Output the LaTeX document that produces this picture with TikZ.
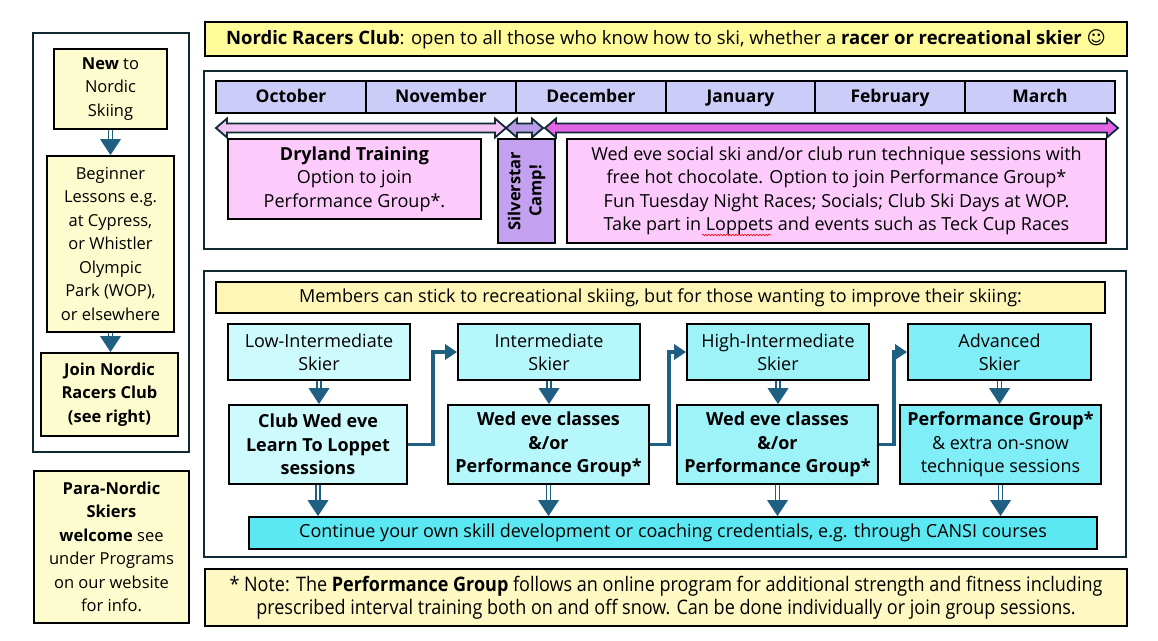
\documentclass[tikz,border=0pt]{standalone}
\usepackage{fontspec}
\setmainfont{Open Sans}
\newfontfamily\narrowfont[FakeStretch=0.9]{Open Sans}
\newfontfamily\symfont{DejaVu Sans}
\usetikzlibrary{arrows.meta,calc,decorations.pathmorphing}
\definecolor{frame}{HTML}{0F2A33}
\definecolor{hdr}{HTML}{FFFB98}
\definecolor{pale}{HTML}{FDFCCF}
\definecolor{memb}{HTML}{FDF6B6}
\definecolor{notec}{HTML}{FEF9C2}
\definecolor{month}{HTML}{CCCCF8}
\definecolor{pinkbox}{HTML}{FCCBFC}
\definecolor{silv}{HTML}{C4A0F0}
\definecolor{arrA}{HTML}{F4C4F4}
\definecolor{arrB}{HTML}{B89CE8}
\definecolor{arrC}{HTML}{E464E6}
\definecolor{cyA}{HTML}{CDFBFD}
\definecolor{cyB}{HTML}{B6F7FB}
\definecolor{cyC}{HTML}{9EF3F8}
\definecolor{cyD}{HTML}{80EEF6}
\definecolor{cyE}{HTML}{5CE8F2}
\definecolor{conn}{HTML}{1F5F82}
\newcommand\bx[7]{\node[#6, minimum width={(#4-#2)*1pt}, minimum height={(#5-#3)*1pt}] (#1) at ({(#2+#4)/2},{(#3+#5)/2}) {#7};}
\newcommand\dnarr[2]{\draw[dshaft] (#1) -- ($(#2)+(0,-16)$); \fill[conn] ($(#2)+(-10.5,-16)$) -- ($(#2)+(10.5,-16)$) -- (#2) -- cycle;}
\newcommand\fatarr[5]{\draw[line width=1.8pt, draw=frame, fill=#5, line join=miter]
  (#1,#3) -- ({#1+11},{#3-9.5}) -- ({#1+11},{#3-4.5}) -- ({#2-11},{#3-4.5}) -- ({#2-11},{#3-9.5}) -- (#2,#3)
  -- ({#2-11},{#3+9.5}) -- ({#2-11},{#3+4.5}) -- ({#1+11},{#3+4.5}) -- ({#1+11},{#3+9.5}) -- cycle;}
\begin{document}
\begin{tikzpicture}[x=1pt,y=-1pt,
  boxst/.style={draw=black, line width=1.8pt, inner sep=0pt, align=center, font=\fontsize{18}{23.5}\selectfont},
  leftst/.style={boxst, fill=pale, font=\fontsize{16.5}{23.5}\selectfont},
  framest/.style={draw=frame, line width=2.8pt, fill=white},
  monthst/.style={boxst, fill=month, line width=1.5pt, text height=12pt, text depth=2pt, font=\fontsize{17.5}{20}\selectfont\bfseries},
  dshaft/.style={draw=conn, line width=1.7pt, double=white, double distance=2.4pt},
  elbow/.style={draw=conn, line width=3.5pt, -{Triangle[length=12pt,width=15pt]}},
]
\useasboundingbox (0,0) rectangle (1158,640);
\fill[white] (0,0) rectangle (1158,640);
% left panel
\draw[framest, line width=2.2pt] (33,33) rectangle (189,452);
\bx{new}{54}{49}{167}{129}{leftst}{\textbf{New} to\\Nordic\\Skiing}
\bx{beg}{47}{156}{174}{332}{leftst}{Beginner\\Lessons e.g.\\at Cypress,\\or Whistler\\Olympic\\Park (WOP),\\or elsewhere}
\bx{join}{41}{353}{178}{436}{leftst}{\textbf{Join Nordic}\\\textbf{Racers Club}\\\textbf{(see right)}}
\bx{para}{34}{471}{189}{623}{leftst}{\textbf{Para-Nordic}\\\textbf{Skiers}\\\textbf{welcome} see\\under Programs\\on our website\\for info.}
\dnarr{new.south}{new.south |- beg.north}
\dnarr{beg.south}{beg.south |- join.north}
% header
\bx{hdr}{205}{22}{1127}{56}{boxst, fill=hdr, font=\fontsize{18.5}{23}\selectfont}{\textbf{Nordic Racers Club}: open to all those who know how to ski, whether a \textbf{racer or recreational skier} {\symfont ☺}}
% timeline
\draw[framest] (204,71) rectangle (1127,249);
\bx{oct}{216}{81}{366}{113}{monthst}{October}
\bx{nov}{366}{81}{516}{113}{monthst}{November}
\bx{dec}{516}{81}{666}{113}{monthst}{December}
\bx{jan}{666}{81}{815}{113}{monthst}{January}
\bx{feb}{815}{81}{965}{113}{monthst}{February}
\bx{mar}{965}{81}{1115}{113}{monthst}{March}
\fatarr{216}{506}{128}{x}{arrA}
\fatarr{506}{543}{128}{x}{arrB}
\fatarr{545}{1118}{128}{x}{arrC}
\bx{dry}{228}{139}{481}{219}{boxst, fill=pinkbox}{\textbf{Dryland Training}\\Option to join\\Performance Group*.}
\bx{silv}{498}{139}{555}{243}{boxst, fill=silv}{}
\node[rotate=90, align=center, font=\fontsize{16.5}{21}\selectfont\bfseries] (silvt) at (silv.center) {Silverstar\\Camp!};
\bx{wed}{567}{139}{1106}{243}{boxst, fill=pinkbox}{Wed eve social ski and/or club run technique sessions with\\free hot chocolate. Option to join Performance Group*\\Fun Tuesday Night Races; Socials; Club Ski Days at WOP.\\Take part in Loppets and events such as Teck Cup Races}
\draw[red, line width=0.6pt, decorate, decoration={snake, amplitude=0.8pt, segment length=3pt}] (702,235) -- (771,235);
% progression
\draw[framest] (204,271) rectangle (1126,557);
\bx{memb}{216}{282}{1105}{313}{boxst, fill=memb}{Members can stick to recreational skiing, but for those wanting to improve their skiing:}
\bx{low}{228}{324}{410}{380}{boxst, fill=cyA}{Low-Intermediate\\Skier}
\bx{inter}{458}{324}{640}{380}{boxst, fill=cyB}{Intermediate\\Skier}
\bx{high}{687}{324}{869}{380}{boxst, fill=cyC}{High-Intermediate\\Skier}
\bx{adv}{908}{324}{1091}{380}{boxst, fill=cyD}{Advanced\\Skier}
\bx{club}{229}{405}{407}{484}{boxst, fill=cyA}{\textbf{Club Wed eve}\\\textbf{Learn To Loppet}\\\textbf{sessions}}
\bx{wedb}{448}{405}{649}{484}{boxst, fill=cyB}{\textbf{Wed eve classes}\\\textbf{\&/or}\\\textbf{Performance Group*}}
\bx{wedc}{677}{405}{878}{484}{boxst, fill=cyC}{\textbf{Wed eve classes}\\\textbf{\&/or}\\\textbf{Performance Group*}}
\bx{perf}{900}{405}{1101}{484}{boxst, fill=cyD}{\textbf{Performance Group*}\\\& extra on-snow\\technique sessions}
\bx{cont}{249}{517}{1097}{549}{boxst, fill=cyE}{Continue your own skill development or coaching credentials, e.g. through CANSI courses}
\dnarr{low.south}{low.south |- club.north}
\dnarr{inter.south}{inter.south |- wedb.north}
\dnarr{high.south}{high.south |- wedc.north}
\dnarr{adv.south}{adv.south |- perf.north}
\dnarr{club.south}{club.south |- cont.north}
\dnarr{wedb.south}{wedb.south |- cont.north}
\dnarr{wedc.south}{wedc.south |- cont.north}
\dnarr{perf.south}{perf.south |- cont.north}
\draw[elbow] (club.east) -- ++(25,0) |- (inter.west);
\draw[elbow] (wedb.east) -- ++(19,0) |- (high.west);
\draw[elbow] (wedc.east) -- ++(15,0) |- (adv.west);
% note
\bx{note}{205}{569}{1127}{626}{boxst, fill=notec, font=\fontsize{20}{23}\narrowfont}{* Note: The \textbf{Performance Group} follows an online program for additional strength and fitness including\\prescribed interval training both on and off snow. Can be done individually or join group sessions.}
\end{tikzpicture}
\end{document}
